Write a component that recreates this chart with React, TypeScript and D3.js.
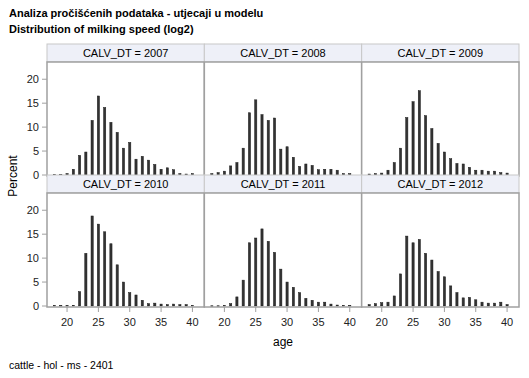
import React from "react";
import * as d3 from "d3";

const ages = d3.range(18, 41);
const years = ["2007", "2008", "2009", "2010", "2011", "2012"];

const v2007 = [0.1, 0.1, 0.3, 1.2, 4.1, 4.8, 11.4, 16.5, 14.1, 11.0, 8.9, 5.6, 6.8, 3.3, 3.9, 3.1, 2.2, 1.2, 1.5, 1.1, 0.3, 0.2, 0.3];
const v2008 = [0.3, 0.5, 0.8, 1.9, 2.6, 5.6, 13.0, 15.7, 12.6, 11.4, 11.9, 5.4, 5.9, 3.7, 1.8, 2.3, 2.0, 1.1, 1.2, 1.2, 1.0, 0.3, 0.3];
const v2009 = [0.2, 0.3, 0.4, 1.0, 2.6, 5.6, 12.0, 15.3, 17.6, 12.4, 9.7, 6.6, 4.8, 3.4, 2.4, 2.3, 1.6, 1.0, 1.0, 0.8, 0.8, 0.5, 0.4];
const v2010 = [0.1, 0.1, 0.1, 0.15, 3.0, 11.0, 18.8, 17.1, 15.5, 13.0, 8.6, 5.0, 2.8, 2.3, 1.2, 0.5, 0.6, 0.4, 0.3, 0.4, 0.3, 0.3, 0.1];
const v2011 = [0.05, 0.05, 0.1, 0.5, 1.9, 5.4, 13.2, 14.2, 16.1, 13.5, 11.2, 7.7, 5.0, 3.9, 2.8, 1.6, 1.2, 0.8, 0.8, 0.4, 0.2, 0.1, 0.1];
const v2012 = [0.3, 0.5, 0.7, 0.8, 2.1, 6.7, 14.6, 13.2, 13.9, 11.0, 9.6, 7.2, 6.1, 4.2, 2.8, 1.7, 1.8, 1.3, 0.8, 0.6, 0.6, 0.8, 0.3];
const seriesValues = [v2007, v2008, v2009, v2010, v2011, v2012];

const yTicks = [0, 5, 10, 15, 20];
const xTicks = [20, 25, 30, 35, 40];

const W = 529;
const H = 378;
const FONT = "'Liberation Sans', Arial, Helvetica, sans-serif";

const left = 47;
const panelW = (519 - 47) / 3;
const headerH = 18;
const plotH = 114;
const rowTops = [44, 175];

export default function App() {
  return (
    <svg
      width={W}
      height={H}
      style={{ position: "absolute", left: 0, top: 0, background: "#fff" }}
      fontFamily={FONT}
    >
      <rect x={0} y={0} width={W} height={H} fill="#fff" />
      <text x={9} y={17} fontSize={11} fontWeight="bold" fill="#000">
        Analiza pročišćenih podataka - utjecaji u modelu
      </text>
      <text x={9} y={33} fontSize={11} fontWeight="bold" fill="#000">
        Distribution of milking speed (log2)
      </text>

      {years.map((yr, i) => {
        const col = i % 3;
        const row = Math.floor(i / 3);
        const px = left + col * panelW;
        const hy = rowTops[row];
        const py = hy + headerH;
        const x = d3.scaleLinear().domain([16.8, 41.9]).range([px, px + panelW]);
        const y = d3.scaleLinear().domain([0, 23.6]).range([py + plotH - 1, py]);
        const vals = seriesValues[i];
        return (
          <g key={yr}>
            <rect x={px} y={hy} width={panelW} height={headerH} fill="#EEF0F8" stroke="#C8C8C8" strokeWidth={1} />
            <text x={px + panelW / 2} y={hy + 13} fontSize={11} textAnchor="middle" fill="#000">
              {`CALV_DT = ${yr}`}
            </text>
            <rect x={px} y={py} width={panelW} height={plotH} fill="#fff" />
            {ages.map((a, k) => (
              <rect
                key={a}
                x={x(a) - 1.1}
                y={y(vals[k])}
                width={2.2}
                height={Math.max(0.5, y(0) - y(vals[k]))}
                fill="#333"
                stroke="#1a1a1a"
                strokeWidth={0.5}
              />
            ))}
            <rect x={px} y={py} width={panelW} height={plotH} fill="none" stroke="#A0A0A0" strokeWidth={1.5} />
            {col === 0 &&
              yTicks.map((t) => (
                <g key={t}>
                  <line x1={px - 5} x2={px} y1={y(t)} y2={y(t)} stroke="#A0A0A0" />
                  <text x={px - 8} y={y(t) + 4} fontSize={11} textAnchor="end" fill="#222">
                    {t}
                  </text>
                </g>
              ))}
            {row === 1 &&
              xTicks.map((t) => (
                <g key={t}>
                  <line x1={x(t)} x2={x(t)} y1={py + plotH} y2={py + plotH + 5} stroke="#A0A0A0" />
                  <text x={x(t)} y={py + plotH + 19} fontSize={11} textAnchor="middle" fill="#222">
                    {t}
                  </text>
                </g>
              ))}
          </g>
        );
      })}

      <text
        transform={`translate(17, 176) rotate(-90)`}
        fontSize={12}
        textAnchor="middle"
        fill="#000"
      >
        Percent
      </text>
      <text x={283} y={346} fontSize={12} textAnchor="middle" fill="#000">
        age
      </text>
      <text x={9} y={369} fontSize={10.5} fill="#000">
        cattle - hol - ms - 2401
      </text>
    </svg>
  );
}
